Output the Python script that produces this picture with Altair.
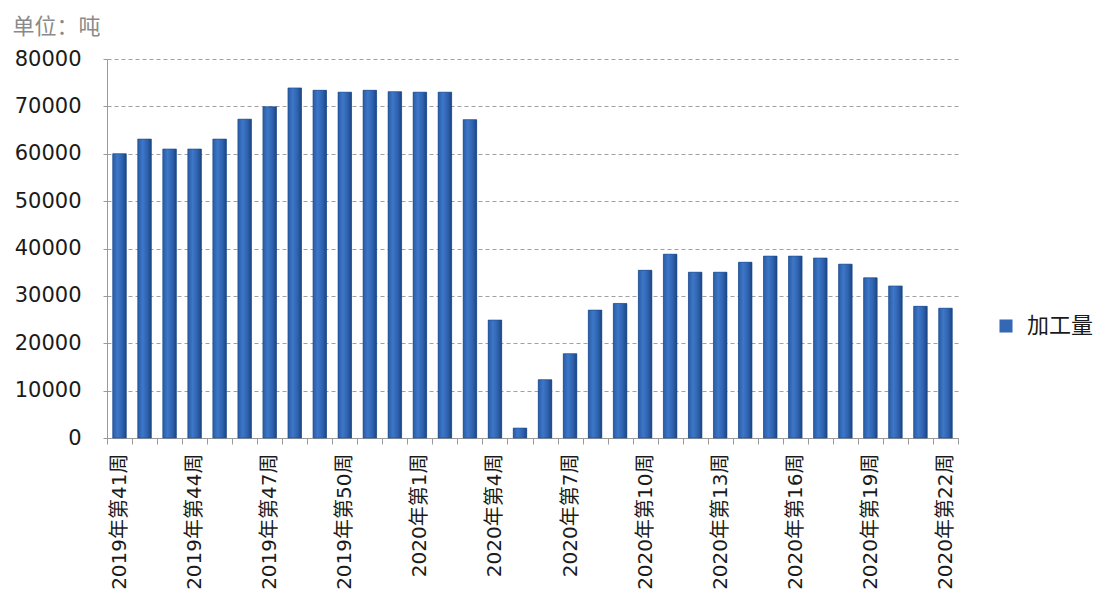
import altair as alt
import pandas as pd

weeks = [
    "2019年第41周", "2019年第42周", "2019年第43周", "2019年第44周", "2019年第45周",
    "2019年第46周", "2019年第47周", "2019年第48周", "2019年第49周", "2019年第50周",
    "2019年第51周", "2019年第52周",
    "2020年第1周", "2020年第2周", "2020年第3周", "2020年第4周", "2020年第5周",
    "2020年第6周", "2020年第7周", "2020年第8周", "2020年第9周", "2020年第10周",
    "2020年第11周", "2020年第12周", "2020年第13周", "2020年第14周", "2020年第15周",
    "2020年第16周", "2020年第17周", "2020年第18周", "2020年第19周", "2020年第20周",
    "2020年第21周", "2020年第22周",
]
values = [
    60000, 63100, 61000, 61000, 63100, 67300, 69900, 73900, 73400, 73000,
    73400, 73100,
    73000, 73000, 67200, 24900, 2100, 12300, 17800, 27000, 28400, 35400,
    38800, 35000, 35000, 37100, 38400, 38400, 38000, 36700, 33800, 32100,
    27800, 27400,
]
shown_labels = [
    "2019年第41周", "2019年第44周", "2019年第47周", "2019年第50周",
    "2020年第1周", "2020年第4周", "2020年第7周", "2020年第10周",
    "2020年第13周", "2020年第16周", "2020年第19周", "2020年第22周",
]
y_ticks = [0, 10000, 20000, 30000, 40000, 50000, 60000, 70000, 80000]
series_name = "加工量"
unit_title = "单位：吨"

df = pd.DataFrame({"week": weeks, "value": values, "series": series_name})

FONT = "DejaVu Sans, Noto Sans CJK SC, sans-serif"
AXIS_GREY = "#9a9a9a"

label_expr = "indexof([" + ",".join("'" + s + "'" for s in shown_labels) + "], datum.value) >= 0 ? datum.value : ''"

x_enc = alt.X(
    "week:N",
    sort=weeks,
    scale=alt.Scale(paddingInner=0, paddingOuter=0),
    axis=alt.Axis(
        title=None,
        labelAngle=270,
        labelExpr=label_expr,
        labelFont=FONT,
        labelFontSize=20,
        labelColor="#1a1a1a",
        labelPadding=9,
        labelOverlap=False,
        tickBand="extent",
        tickSize=6,
        tickColor=AXIS_GREY,
        domainColor=AXIS_GREY,
        grid=False,
    ),
)
y_enc = alt.Y(
    "value:Q",
    scale=alt.Scale(domain=[0, 80000], nice=False),
    axis=alt.Axis(
        values=y_ticks,
        format="d",
        title=unit_title,
        titleAngle=0,
        titleX=-95,
        titleY=-33,
        titleAlign="left",
        titleBaseline="middle",
        titleFont=FONT,
        titleFontSize=22,
        titleFontWeight="normal",
        titleColor="#8a8a8a",
        labelFont=FONT,
        labelFontSize=21,
        labelColor="#1a1a1a",
        labelPadding=22,
        tickSize=4,
        tickColor=AXIS_GREY,
        domainColor=AXIS_GREY,
        gridColor="#a0a0a0",
        gridDash=[4, 3],
        gridWidth=1,
    ),
)

base_bars = alt.Chart(df).mark_bar(width={"band": 0.54}).encode(
    x=x_enc,
    y=y_enc,
    color=alt.Color(
        "series:N",
        scale=alt.Scale(domain=[series_name], range=["#3468b5"]),
        legend=alt.Legend(
            title=None,
            orient="none",
            legendX=888,
            legendY=256,
            symbolType="square",
            symbolSize=170,
            symbolStrokeWidth=0,
            labelFont=FONT,
            labelFontSize=22,
            labelColor="#1a1a1a",
            labelOffset=10,
        ),
    ),
)

gradient = alt.LinearGradient(
    gradient="linear",
    x1=0, x2=1, y1=0, y2=0,
    stops=[
        alt.GradientStop(color="#2a5ca6", offset=0),
        alt.GradientStop(color="#3d77c8", offset=0.35),
        alt.GradientStop(color="#2f62ae", offset=0.7),
        alt.GradientStop(color="#1b4584", offset=1),
    ],
)
top_bars = alt.Chart(df).mark_bar(
    width={"band": 0.54}, color=gradient, stroke="#1d4a8a", strokeWidth=0.6
).encode(x=x_enc, y=y_enc)

chart = alt.layer(base_bars, top_bars).properties(
    width=851,
    height=379,
    background="white",
    autosize=alt.AutoSizeParams(type="none"),
    padding={"left": 99, "top": 51, "right": 137, "bottom": 153},
).configure_view(stroke=None)

chart.save("out.html", embed_options={"renderer": "svg", "actions": False})
